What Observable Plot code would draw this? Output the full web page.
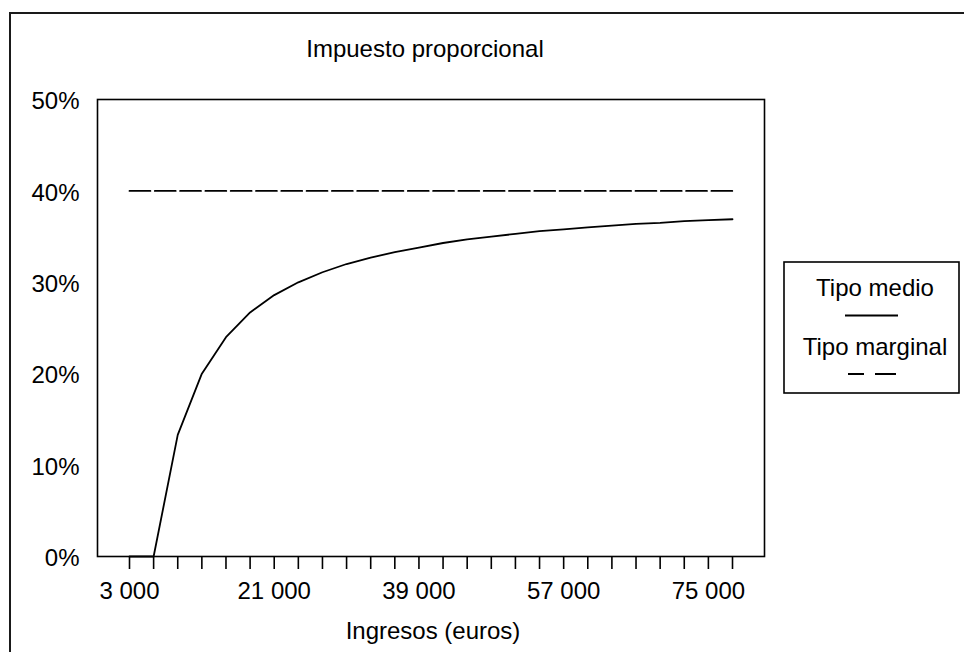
<!DOCTYPE html>
<html>
<head>
<meta charset="utf-8">
<script src="https://cdn.jsdelivr.net/npm/d3@7"></script>
<script src="https://cdn.jsdelivr.net/npm/@observablehq/plot@0.6"></script>
<style>
  html, body { margin: 0; padding: 0; background: #fff; overflow: hidden; }
  #wrap { position: relative; width: 964px; height: 652px; overflow: hidden; font-family: "Liberation Sans", Arial, sans-serif; }
  #border { position: absolute; left: 9px; top: 12px; width: 1000px; height: 700px; border-left: 2px solid #1a1a1a; border-top: 2px solid #1a1a1a; }
  #chart { position: absolute; left: 0; top: 0; }
  #overlay { position: absolute; left: 0; top: 0; }
  #overlay text { font-family: "Liberation Sans", Arial, sans-serif; font-size: 24px; fill: #000; }
</style>
</head>
<body>
<div id="wrap">
  <div id="border"></div>
  <div id="chart"></div>
  <svg id="overlay" width="964" height="652">
    <text x="425" y="57" text-anchor="middle">Impuesto proporcional</text>
    <text x="433" y="639" text-anchor="middle">Ingresos (euros)</text>
    <rect x="784" y="262" width="175" height="131" fill="#fff" stroke="#000" stroke-width="1.6"></rect>
    <text x="875" y="296" text-anchor="middle">Tipo medio</text>
    <line x1="845" x2="898" y1="315.5" y2="315.5" stroke="#000" stroke-width="1.8"></line>
    <text x="875" y="355" text-anchor="middle">Tipo marginal</text>
    <line x1="848" x2="896" y1="374" y2="374" stroke="#000" stroke-width="1.8" stroke-dasharray="16,11,21"></line>
  </svg>
</div>
<script>
// Categories: income (euros)
const ingresos = [3000, 6000, 9000, 12000, 15000, 18000, 21000, 24000, 27000, 30000,
  33000, 36000, 39000, 42000, 45000, 48000, 51000, 54000, 57000, 60000,
  63000, 66000, 69000, 72000, 75000, 78000];
// Average tax rate (%)
const tipoMedio = [0, 0, 13.3, 20.0, 24.0, 26.7, 28.6, 30.0, 31.1, 32.0,
  32.7, 33.3, 33.8, 34.3, 34.7, 35.0, 35.3, 35.6, 35.8, 36.0,
  36.2, 36.4, 36.5, 36.7, 36.8, 36.9];
// Marginal tax rate (%)
const tipoMarginal = [40, 40, 40, 40, 40, 40, 40, 40, 40, 40,
  40, 40, 40, 40, 40, 40, 40, 40, 40, 40,
  40, 40, 40, 40, 40, 40];
// Tick labels
const xLabels = [3000, 21000, 39000, 57000, 75000];
const yTicks = [0, 10, 20, 30, 40, 50];

const medio = ingresos.map((x, i) => ({x, y: tipoMedio[i]}));
const marginal = ingresos.map((x, i) => ({x, y: tipoMarginal[i]}));
const fmt = d => d3.format(",")(d).replace(/,/g, " ");

const chart = Plot.plot({
  width: 964,
  height: 652,
  marginLeft: 97,
  marginRight: 200,
  marginTop: 99,
  marginBottom: 96,
  x: {domain: [-980, 81980]},
  y: {domain: [0, 50]},
  style: {fontFamily: "Liberation Sans, Arial, sans-serif", fontSize: "24px", color: "#000", background: "transparent"},
  marks: [
    Plot.frame({stroke: "#000", strokeWidth: 1.6}),
    Plot.axisY({ticks: yTicks, tickSize: 0, tickPadding: 18, tickFormat: d => d + "%", label: null, dy: 2}),
    Plot.axisX({ticks: ingresos, tickSize: 13, tickPadding: 12, strokeWidth: 1.6,
      tickFormat: d => xLabels.includes(d) ? fmt(d) : "", label: null}),
    Plot.lineY(marginal, {x: "x", y: "y", stroke: "#000", strokeWidth: 1.8, strokeDasharray: "20.9,4.4"}),
    Plot.lineY(medio, {x: "x", y: "y", stroke: "#000", strokeWidth: 1.8})
  ]
});
document.getElementById("chart").appendChild(chart);
</script>
</body>
</html>
